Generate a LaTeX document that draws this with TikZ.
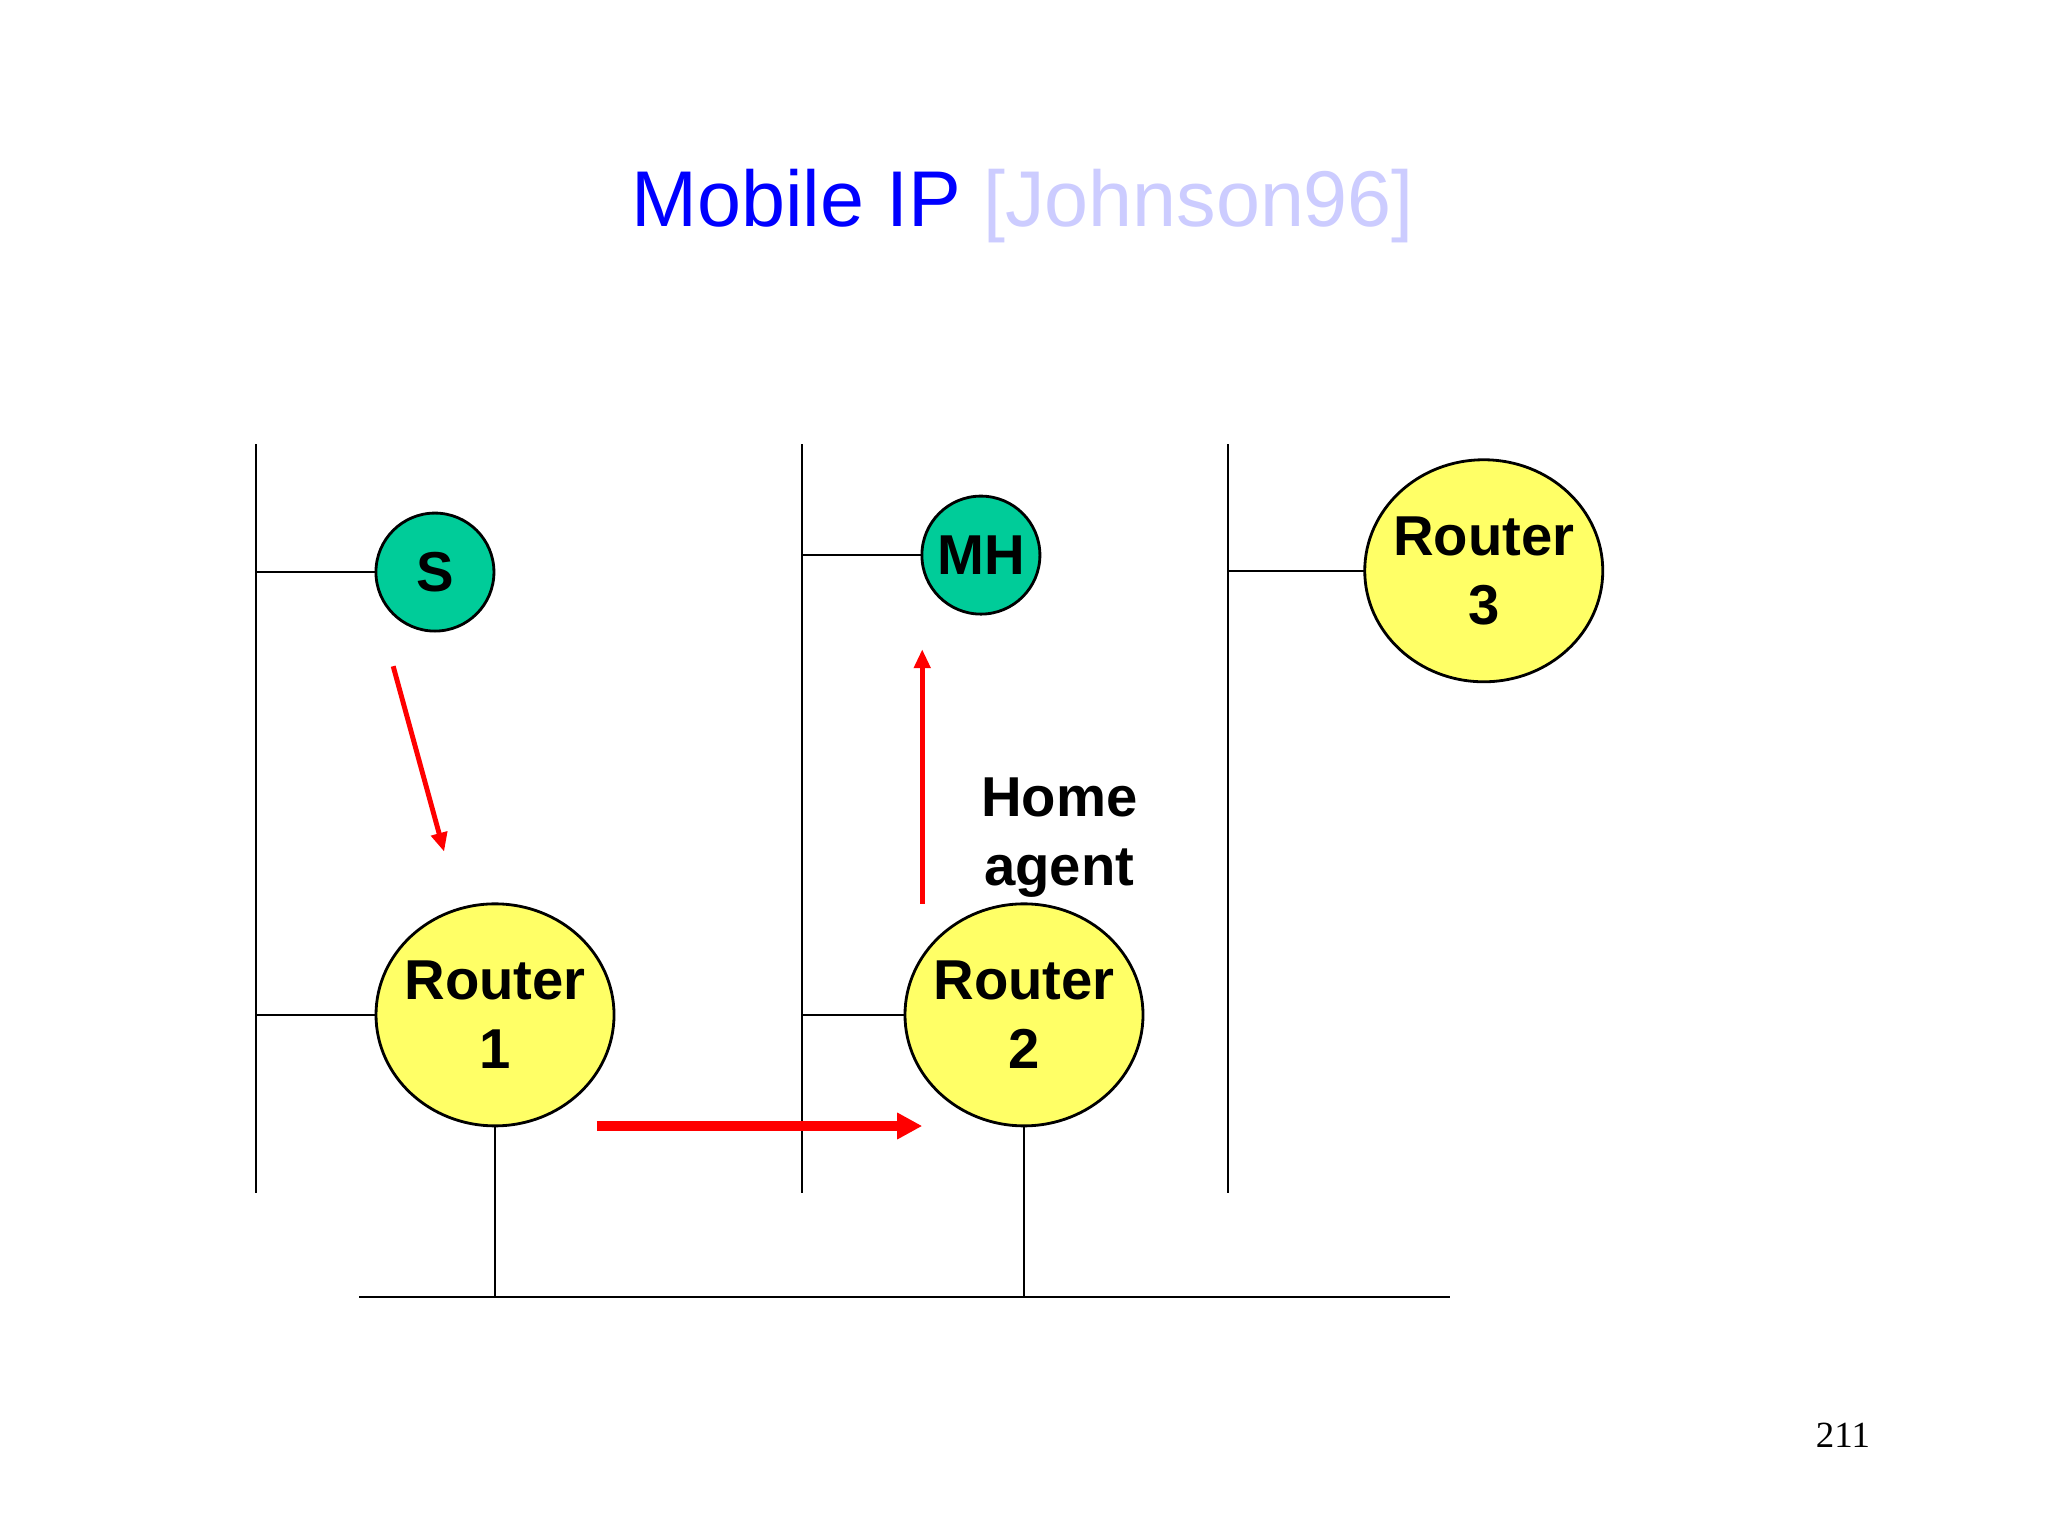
\documentclass[tikz,border=0pt]{standalone}
\usepackage{fontspec}
\setmainfont{Liberation Sans}
\newfontfamily\pagefont{Liberation Serif}
\usepackage{tikz}
\usetikzlibrary{shapes.geometric,arrows.meta}
\definecolor{hostgreen}{RGB}{0,204,153}
\definecolor{routeryellow}{RGB}{255,255,102}
\definecolor{citelilac}{RGB}{204,204,255}
\begin{document}
\begin{tikzpicture}[scale=1.306]
\tikzstyle{every node}+=[inner sep=0pt]
\tikzstyle{host}=[circle,draw=black,line width=0.8pt,fill=hostgreen,minimum size=1.18cm,font=\bfseries\fontsize{16}{19.7}\selectfont]
\tikzstyle{router}=[ellipse,draw=black,line width=0.8pt,fill=routeryellow,inner xsep=-1.5mm,minimum width=2.38cm,minimum height=2.22cm,align=center,font=\bfseries\fontsize{16}{19.7}\selectfont]
\tikzstyle{wire}=[black,line width=0.7pt]
\tikzstyle{flow}=[red,line width=1.4pt,-{Triangle[length=1.9mm,width=1.6mm]}]
\useasboundingbox [fill=white] (0,0) rectangle (15.68,-11.76);
\node (title) at (7.83,-1.58) {\fontsize{22.5}{27}\selectfont\color{blue}Mobile IP \color{citelilac}[Johnson96]};
\node (page) at (14.11,-10.99) {\pagefont\fontsize{10.5}{12}\selectfont 211};
% the three LANs and the backbone
\coordinate (lan1top) at (1.96,-3.40);
\coordinate (lan1bot) at (1.96,-9.13);
\coordinate (lan2top) at (6.14,-3.40);
\coordinate (lan2bot) at (6.14,-9.13);
\coordinate (lan3top) at (9.40,-3.40);
\coordinate (lan3bot) at (9.40,-9.13);
\coordinate (busl) at (2.75,-9.93);
\coordinate (busr) at (11.10,-9.93);
\draw [wire] (lan1top) -- (lan1bot);
\draw [wire] (lan2top) -- (lan2bot);
\draw [wire] (lan3top) -- (lan3bot);
\draw [wire] (busl) -- (busr);
% hosts and routers
\node [host] (S) at (3.33,-4.38) {S};
\node [host] (MH) at (7.51,-4.25) {MH};
\node [router] (R3) at (11.36,-4.37) {Router\\3};
\node [router] (R1) at (3.79,-7.77) {Router\\1};
\node [router] (R2) at (7.84,-7.77) {Router\\2};
\node [align=center,font=\bfseries\fontsize{16}{19.7}\selectfont] (home) at (8.11,-6.41) {Home\\ agent};
\draw [wire] (S.west) -- (S.west -| lan1top);
\draw [wire] (MH.west) -- (MH.west -| lan2top);
\draw [wire] (R3.west) -- (R3.west -| lan3top);
\draw [wire] (R1.west) -- (R1.west -| lan1top);
\draw [wire] (R2.west) -- (R2.west -| lan2top);
\draw [wire] (R1.south) -- (R1.south |- busl);
\draw [wire] (R2.south) -- (R2.south |- busl);
% packet path
\coordinate (p1a) at (3.01,-5.10);
\coordinate (p1b) at (3.40,-6.52);
\coordinate (p2a) at (4.57,-8.62);
\coordinate (p2b) at (7.06,-8.62);
\coordinate (p3a) at (7.06,-6.92);
\coordinate (p3b) at (7.06,-4.97);
\draw [flow] (p1a) -- (p1b);
\draw [flow,line width=2.6pt,-{Triangle[length=2.5mm,width=2.5mm]}] (p2a) -- (p2b);
\draw [flow] (p3a) -- (p3b);
\end{tikzpicture}
\end{document}
